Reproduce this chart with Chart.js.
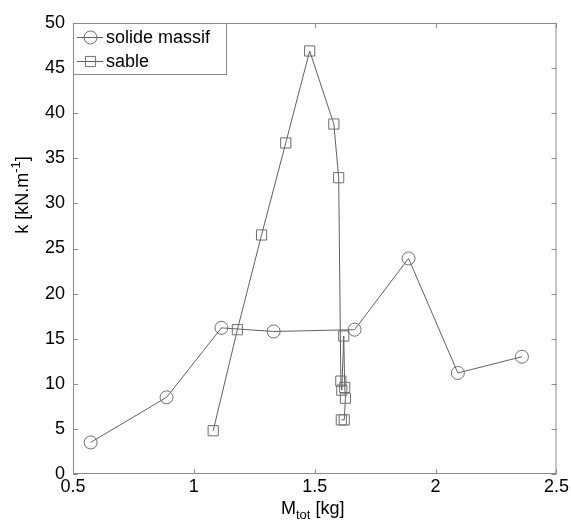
<!DOCTYPE html>
<html>
<head>
<meta charset="utf-8">
<script src="https://cdn.jsdelivr.net/npm/chart.js@4/dist/chart.umd.min.js"></script>
<style>
  body { margin: 0; background: #fff; }
  #wrap { width: 571px; height: 522px; }
</style>
</head>
<body>
<div id="wrap"><canvas id="kplot" width="571" height="522"></canvas></div>
<script>
// solide massif
var solideX = [0.573, 0.887, 1.114, 1.33, 1.665, 1.888, 2.092, 2.357];
var solideY = [3.5, 8.5, 16.2, 15.8, 16.0, 23.9, 11.2, 13.0];
// sable
var sableX = [1.08, 1.18, 1.28, 1.38, 1.479, 1.579, 1.599, 1.608, 1.612, 1.62, 1.624, 1.627, 1.622, 1.61];
var sableY = [4.8, 16.0, 26.5, 36.7, 46.9, 38.8, 32.85, 10.3, 9.3, 15.3, 9.6, 8.4, 6.0, 6.0];

var xTicks = [0.5, 1, 1.5, 2, 2.5];
var yTicks = [0, 5, 10, 15, 20, 25, 30, 35, 40, 45, 50];
var seriesNames = ['solide massif', 'sable'];

var FONT = '"Liberation Sans", Arial, sans-serif';
var axisGray = '#8a8a8a';
var lineGray = '#606060';
var markGray = '#6e6e6e';

function pts(xs, ys) {
	return xs.map(function (x, i) { return { x: x, y: ys[i] }; });
}

// box, inward ticks, titles and legend (matlab look)
var matlabBits = {
	id: 'matlabBits',
	afterDraw: function (chart) {
		var ctx = chart.ctx;
		var a = chart.chartArea;
		var xs = chart.scales.x, ys = chart.scales.y;
		ctx.save();
		ctx.strokeStyle = axisGray;
		ctx.lineWidth = 1;
		ctx.strokeRect(a.left + 0.5, a.top + 0.5, a.right - a.left - 1, a.bottom - a.top - 1);
		var tl = 5;
		ctx.beginPath();
		xTicks.forEach(function (v) {
			var px = Math.round(xs.getPixelForValue(v)) + 0.5;
			ctx.moveTo(px, a.bottom); ctx.lineTo(px, a.bottom - tl);
			ctx.moveTo(px, a.top); ctx.lineTo(px, a.top + tl);
		});
		yTicks.forEach(function (v) {
			var py = Math.round(ys.getPixelForValue(v)) + 0.5;
			ctx.moveTo(a.left, py); ctx.lineTo(a.left + tl, py);
			ctx.moveTo(a.right, py); ctx.lineTo(a.right - tl, py);
		});
		ctx.stroke();

		// x title: M_tot [kg]
		ctx.fillStyle = '#000';
		ctx.textBaseline = 'alphabetic';
		ctx.textAlign = 'left';
		var big = '18px ' + FONT, small = '13px ' + FONT;
		ctx.font = big; var wM = ctx.measureText('M').width; var wK = ctx.measureText(' [kg]').width;
		ctx.font = small; var wT = ctx.measureText('tot').width;
		var cx = (a.left + a.right) / 2 - 2;
		var x0 = cx - (wM + wT + wK) / 2, by = 514;
		ctx.font = big; ctx.fillText('M', x0, by);
		ctx.font = small; ctx.fillText('tot', x0 + wM, by + 5);
		ctx.font = big; ctx.fillText(' [kg]', x0 + wM + wT, by);

		// y title: k [kN.m^-1]
		ctx.save();
		ctx.translate(28, 195);
		ctx.rotate(-Math.PI / 2);
		ctx.font = big; var w1 = ctx.measureText('k [kN.m').width; var w3 = ctx.measureText(']').width;
		ctx.font = small; var w2 = ctx.measureText('-1').width;
		var s = -(w1 + w2 + w3) / 2;
		ctx.font = big; ctx.fillText('k [kN.m', s, 0);
		ctx.font = small; ctx.fillText('-1', s + w1, -8);
		ctx.font = big; ctx.fillText(']', s + w1 + w2, 0);
		ctx.restore();

		// legend
		var lx = a.left, ly = a.top, lw = 153, lh = 51;
		ctx.fillStyle = '#fff';
		ctx.fillRect(lx, ly, lw, lh);
		ctx.strokeStyle = axisGray;
		ctx.strokeRect(lx + 0.5, ly + 0.5, lw, lh);
		chart.data.datasets.forEach(function (ds, i) {
			var yy = ly + 14 + i * 24;
			ctx.strokeStyle = ds.borderColor;
			ctx.lineWidth = 1;
			ctx.beginPath(); ctx.moveTo(lx + 4, yy + 0.5); ctx.lineTo(lx + 30, yy + 0.5); ctx.stroke();
			ctx.strokeStyle = ds.pointBorderColor;
			ctx.fillStyle = 'rgba(0,0,0,0)';
			Chart.helpers.drawPoint(ctx, { pointStyle: ds.pointStyle, radius: ds.pointRadius, borderWidth: 1 }, lx + 17.5, yy + 0.5);
			ctx.fillStyle = '#000';
			ctx.font = big;
			ctx.textBaseline = 'middle';
			ctx.fillText(seriesNames[i], lx + 33, yy + 1);
		});
		ctx.restore();
	}
};

window.onload = function () {
	var c = document.getElementById('kplot').getContext('2d');
	window.kChart = new Chart(c, {
		type: 'scatter',
		data: {
			datasets: [{
				label: seriesNames[0],
				data: pts(solideX, solideY),
				showLine: true,
				borderColor: lineGray,
				borderWidth: 1,
				pointStyle: 'circle',
				pointRadius: 6.5,
				pointBorderColor: markGray,
				pointBackgroundColor: 'rgba(0,0,0,0)',
				pointBorderWidth: 1
			}, {
				label: seriesNames[1],
				data: pts(sableX, sableY),
				showLine: true,
				borderColor: lineGray,
				borderWidth: 1,
				pointStyle: 'rect',
				pointRadius: 7.2,
				pointBorderColor: markGray,
				pointBackgroundColor: 'rgba(0,0,0,0)',
				pointBorderWidth: 1
			}]
		},
		options: {
			responsive: false,
			animation: false,
			layout: { padding: { top: 23, right: 14, left: 0, bottom: 0 } },
			plugins: { legend: { display: false }, tooltip: { enabled: false } },
			scales: {
				x: {
					type: 'linear', min: 0.5, max: 2.5,
					afterFit: function (s) { s.height = 48; },
					afterBuildTicks: function (s) { s.ticks = xTicks.map(function (v) { return { value: v }; }); },
					grid: { display: false, drawTicks: false },
					border: { display: false },
					ticks: { color: '#000', font: { family: FONT, size: 18 }, padding: 2, maxRotation: 0,
						callback: function (v) { return String(v); } }
				},
				y: {
					type: 'linear', min: 0, max: 50,
					afterFit: function (s) { s.width = 73; },
					afterBuildTicks: function (s) { s.ticks = yTicks.map(function (v) { return { value: v }; }); },
					grid: { display: false, drawTicks: false },
					border: { display: false },
					ticks: { color: '#000', font: { family: FONT, size: 18 }, padding: 8 }
				}
			}
		},
		plugins: [matlabBits]
	});
};
</script>
</body>
</html>
